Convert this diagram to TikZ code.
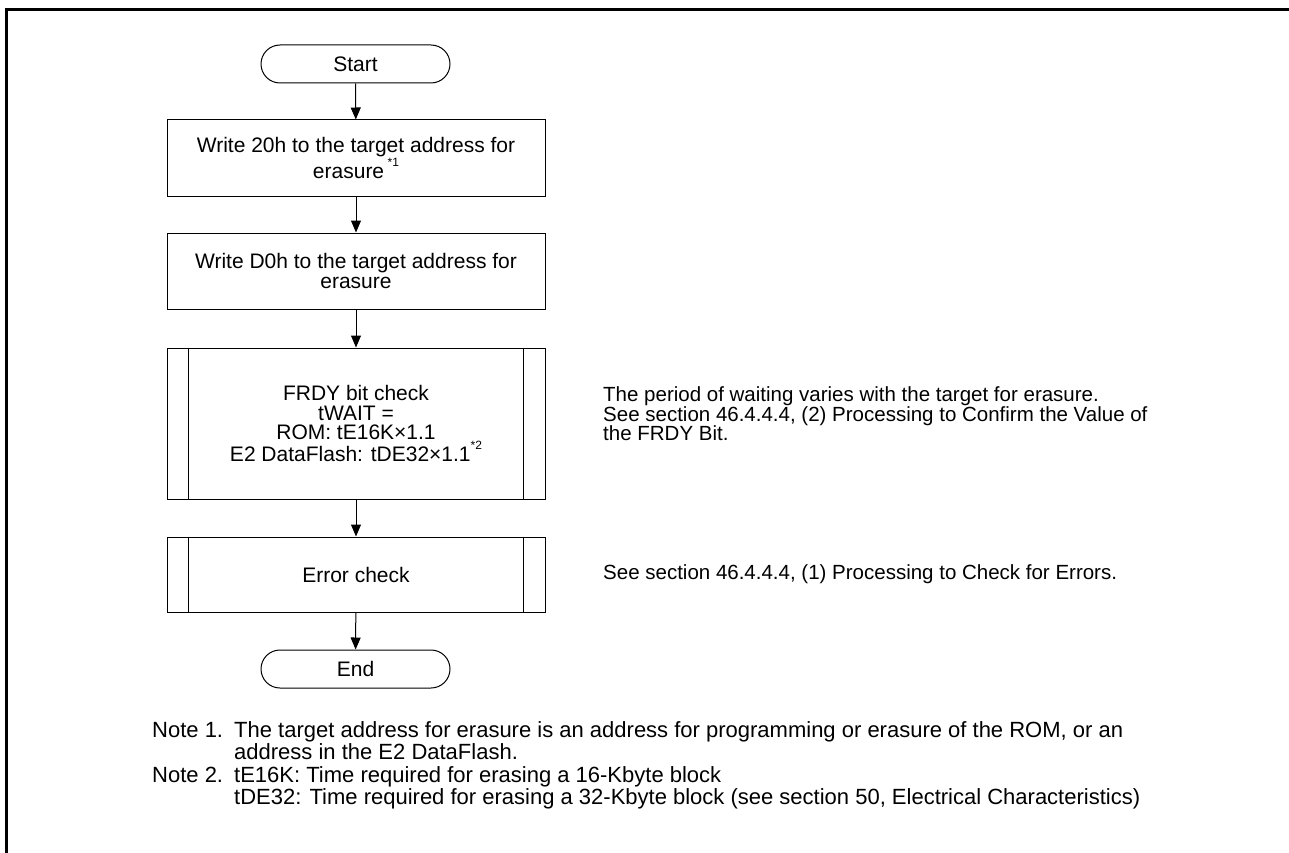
\documentclass[tikz,border=0pt]{standalone}
\usepackage{fontspec}
\setmainfont{Liberation Sans}
\usetikzlibrary{arrows.meta}
\tikzset{
  every node/.style={inner sep=0pt},
  boxfont/.style={font=\fontsize{21}{19.5}\selectfont},
  sidefont/.style={font=\fontsize{20.5}{19.5}\selectfont},
  notefont/.style={font=\fontsize{22}{22.5}\selectfont},
  term/.style={draw, boxfont, line width=1pt, rounded corners=19pt, minimum width=189pt, minimum height=38pt, align=center},
  procbox/.style={draw, boxfont, line width=1pt, minimum width=378pt, minimum height=76pt, align=center},
  subbox/.style={draw, boxfont, line width=1pt, minimum width=378pt, align=center},
  flow/.style={line width=1pt, -{Triangle[width=10pt,length=12pt]}},
  side/.style={sidefont, anchor=west, align=left},
  frame/.style={line width=3pt}
}
\newcommand{\supmark}[1]{\raisebox{0.55em}{\fontsize{12}{12}\selectfont #1}}
\begin{document}
\begin{tikzpicture}[x=1pt,y=-1pt]
\useasboundingbox (0,0) rectangle (1289,853);
\draw[frame] (6.5,853) -- (6.5,9.5) -- (1289,9.5);

\node[term] (start) at (355.5,64) {Start};
\node[procbox] (b1) at (356,158) {Write 20h to the target address for\\erasure\,\supmark{*1}};
\node[procbox] (b2) at (356,271) {Write D0h to the target address for\\erasure};
\node[subbox, minimum height=151pt] (frdy) at (356,423.5) {FRDY bit check\\tWAIT =\\ROM: tE16K×1.1\\E2 DataFlash: tDE32×1.1\supmark{*2}};
\draw[line width=1pt] ([xshift=22pt]frdy.north west) -- ([xshift=22pt]frdy.south west);
\draw[line width=1pt] ([xshift=-22pt]frdy.north east) -- ([xshift=-22pt]frdy.south east);
\node[subbox, minimum height=75pt] (err) at (356,574.5) {Error check};
\draw[line width=1pt] ([xshift=22pt]err.north west) -- ([xshift=22pt]err.south west);
\draw[line width=1pt] ([xshift=-22pt]err.north east) -- ([xshift=-22pt]err.south east);
\node[term] (end) at (355.5,669) {End};

\draw[flow] (start) -- (b1);
\draw[flow] (b1) -- (b2);
\draw[flow] (b2) -- (frdy);
\draw[flow] (frdy) -- (err);
\draw[flow] (err) -- (end);

\node[side] (t1) at (603,414) {The period of waiting varies with the target for erasure.\\See section 46.4.4.4, (2) Processing to Confirm the Value of\\the FRDY Bit.};
\node[side] (t2) at (603,574.5) {See section 46.4.4.4, (1) Processing to Check for Errors.};

\node[notefont, anchor=north west, align=left] (notes) at (152,721) {\makebox[82pt][l]{Note 1.}The target address for erasure is an address for programming or erasure of the ROM, or an\\
\makebox[82pt][l]{}address in the E2 DataFlash.\\
\makebox[82pt][l]{Note 2.}tE16K: Time required for erasing a 16-Kbyte block\\
\makebox[82pt][l]{}tDE32: Time required for erasing a 32-Kbyte block (see section 50, Electrical Characteristics)};
\end{tikzpicture}
\end{document}
